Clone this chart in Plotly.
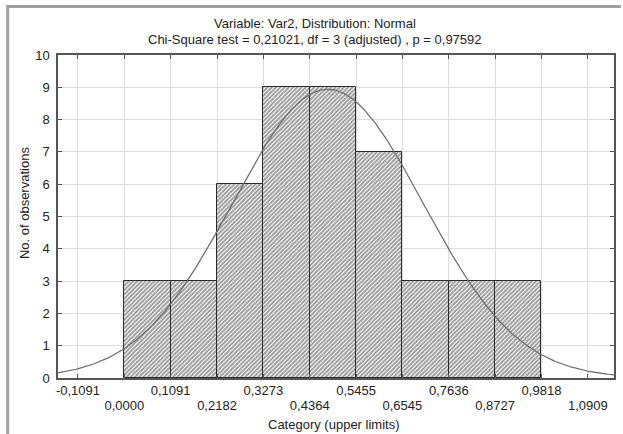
import numpy as np
import plotly.graph_objects as go

# ---- data ----
upper_limits = [0.1091, 0.2182, 0.3273, 0.4364, 0.5455, 0.6545, 0.7636, 0.8727, 0.9818]
counts = [3, 3, 6, 9, 9, 7, 3, 3, 3]
bin_width = 0.1091
tick_labels = ["-0,1091", "0,0000", "0,1091", "0,2182", "0,3273", "0,4364",
               "0,5455", "0,6545", "0,7636", "0,8727", "0,9818", "1,0909"]
y_ticks = list(range(0, 11))
# fitted normal distribution parameters
fit_mean = 0.479
fit_sd = 0.224
x_range = [-0.156, 1.1525]

title1 = "Variable: Var2, Distribution: Normal"
title2 = "Chi-Square test = 0,21021, df = 3 (adjusted) , p = 0,97592"

tick_vals = [float(t.replace(",", ".")) for t in tick_labels]
n_obs = sum(counts)

FONT = "Liberation Sans, Arial, sans-serif"
TXT = "#222222"

fig = go.Figure()

fig.add_trace(go.Bar(
    x=[u - bin_width / 2 for u in upper_limits],
    y=counts,
    width=bin_width,
    marker=dict(
        color="#ffffff",
        line=dict(color="#2a2a2a", width=1),
        pattern=dict(shape="/", fgcolor="#333333", bgcolor="#f4f4f4", size=3, solidity=0.55),
    ),
    showlegend=False,
    hoverinfo="skip",
))

xs = np.linspace(x_range[0], x_range[1], 400)
ys = n_obs * bin_width / (fit_sd * np.sqrt(2 * np.pi)) * np.exp(-0.5 * ((xs - fit_mean) / fit_sd) ** 2)
fig.add_trace(go.Scatter(
    x=xs, y=ys, mode="lines",
    line=dict(color="#6a6a6a", width=1.2),
    showlegend=False, hoverinfo="skip",
))

row1_text = [t if i % 2 == 0 else "" for i, t in enumerate(tick_labels)]
row2_vals = [v for i, v in enumerate(tick_vals) if i % 2 == 1]
row2_text = [t for i, t in enumerate(tick_labels) if i % 2 == 1]

fig.update_layout(
    width=623, height=434,
    margin=dict(l=58, r=7, t=55, b=56),
    paper_bgcolor="#ffffff",
    plot_bgcolor="#ffffff",
    font=dict(family=FONT, size=13, color=TXT),
    bargap=0,
    xaxis=dict(
        range=x_range,
        tickmode="array", tickvals=tick_vals, ticktext=row1_text,
        ticks="inside", ticklen=4, tickcolor="#555555",
        showline=True, linecolor="#555555", linewidth=1.5, mirror="ticks",
        showgrid=True, gridcolor="#dddddd", gridwidth=1,
        zeroline=False,
        ticklabelstandoff=0,
        tickfont=dict(size=13, color=TXT),
    ),
    xaxis2=dict(
        range=x_range, overlaying="x", side="bottom", anchor="y",
        tickmode="array", tickvals=row2_vals, ticktext=row2_text,
        ticks="", showline=False, showgrid=False, zeroline=False,
        ticklabelstandoff=18,
        tickfont=dict(size=13, color=TXT),
    ),
    yaxis=dict(
        range=[0, 10],
        tickmode="array", tickvals=y_ticks,
        ticks="inside", ticklen=4, tickcolor="#555555",
        showline=True, linecolor="#555555", linewidth=1.5, mirror="ticks",
        showgrid=True, gridcolor="#dddddd", gridwidth=1,
        zeroline=False,
        ticklabelstandoff=4,
        tickfont=dict(size=13, color=TXT),
    ),
)

# invisible trace on xaxis2 so it renders
fig.add_trace(go.Scatter(x=[x_range[0]], y=[0], xaxis="x2", mode="markers",
                         marker=dict(opacity=0), showlegend=False, hoverinfo="skip"))

def px_x(px):
    return (px - 58) / 558.0

def px_y(py):
    return (378 - py) / 323.0

annotations = [
    dict(text=title1, x=px_x(316), y=px_y(23.5), xref="paper", yref="paper",
         xanchor="center", yanchor="middle", showarrow=False, font=dict(size=13, color=TXT)),
    dict(text=title2, x=px_x(316), y=px_y(39.5), xref="paper", yref="paper",
         xanchor="center", yanchor="middle", showarrow=False, font=dict(size=13, color=TXT)),
    dict(text="Category (upper limits)", x=px_x(335), y=px_y(424), xref="paper", yref="paper",
         xanchor="center", yanchor="middle", showarrow=False, font=dict(size=13, color=TXT)),
    dict(text="No. of observations", x=px_x(24), y=px_y(203), xref="paper", yref="paper",
         xanchor="center", yanchor="middle", textangle=-90, showarrow=False,
         font=dict(size=13, color=TXT)),
]
fig.update_layout(annotations=annotations)

# outer frame (top and left gray border)
fig.update_layout(shapes=[
    dict(type="line", xref="paper", yref="paper", x0=px_x(7.5), x1=px_x(623), y0=px_y(6.5), y1=px_y(6.5),
         line=dict(color="#a0a0a0", width=3)),
    dict(type="line", xref="paper", yref="paper", x0=px_x(7.5), x1=px_x(7.5), y0=px_y(5), y1=px_y(434),
         line=dict(color="#a0a0a0", width=3)),
])

fig.write_html("out.html")
